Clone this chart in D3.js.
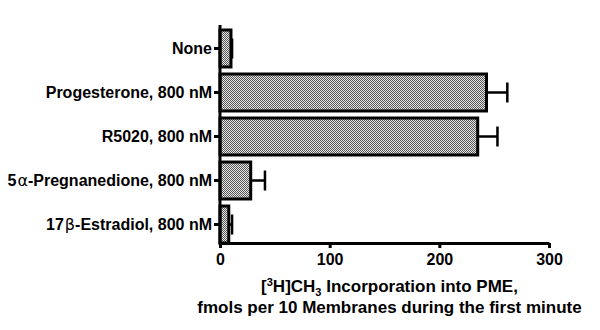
<!DOCTYPE html>
<html>
<head>
<meta charset="utf-8">
<script src="https://cdn.jsdelivr.net/npm/d3@7"></script>
<style>
  body { margin: 0; background: #fff; }
  text { font-family: "Liberation Sans", Arial, sans-serif; font-weight: bold; }
</style>
</head>
<body>
<svg id="chart" width="600" height="330"></svg>
<script>
// data
const treatments = ["None", "Progesterone, 800 nM", "R5020, 800 nM", "5α-Pregnanedione, 800 nM", "17β-Estradiol, 800 nM"];
const incorporation = [10, 243, 235, 28, 8];
const errors = [1, 19, 18, 13, 3];
const xTicks = [0, 100, 200, 300];

let width = 600, height = 330;
var margin = {top: 30, right: 51, bottom: 87, left: 220};

let svg = d3.select("#chart");

// checkered fill like the original
let defs = svg.append("defs");
let pat = defs.append("pattern")
    .attr("id", "check")
    .attr("patternUnits", "userSpaceOnUse")
    .attr("width", 2).attr("height", 2);
pat.append("rect").attr("width", 2).attr("height", 2).attr("fill", "#e8e8e8");
pat.append("rect").attr("width", 1).attr("height", 1).attr("fill", "#555");
pat.append("rect").attr("x", 1).attr("y", 1).attr("width", 1).attr("height", 1).attr("fill", "#555");

const xScale = d3.scaleLinear()
    .domain([0, 300])
    .range([margin.left, width - margin.right]);

const yScale = d3.scaleBand()
    .domain(treatments)
    .range([margin.top, height - margin.bottom])
    .paddingInner(0.16)
    .paddingOuter(0);

let axisY = height - margin.bottom;

// bars
svg.append("g")
    .selectAll("rect")
    .data(treatments)
    .enter()
    .append("rect")
        .attr("x", xScale(0))
        .attr("y", d => yScale(d))
        .attr("width", (d, i) => xScale(incorporation[i]) - xScale(0))
        .attr("height", yScale.bandwidth())
        .attr("fill", "url(#check)")
        .attr("stroke", "black")
        .attr("stroke-width", 3);

// error bars (upper only)
let errG = svg.append("g").attr("stroke", "black").attr("stroke-width", 2.5);
treatments.forEach((t, i) => {
    let cy = yScale(t) + yScale.bandwidth() / 2;
    let x1 = xScale(incorporation[i]);
    let x2 = xScale(incorporation[i] + errors[i]);
    errG.append("line").attr("x1", x1).attr("x2", x2).attr("y1", cy).attr("y2", cy);
    errG.append("line").attr("x1", x2).attr("x2", x2)
        .attr("y1", cy - 10).attr("y2", cy + 10);
});

// x axis
let xAxis = svg.append("g")
    .attr("transform", "translate(0," + axisY + ")")
    .call(d3.axisBottom(xScale).tickValues(xTicks).tickSize(5).tickPadding(6).tickSizeOuter(0));
xAxis.select(".domain").attr("stroke-width", 3);
xAxis.selectAll(".tick line").attr("stroke-width", 3);
xAxis.selectAll("text").style("font-size", "16px").style("font-family", "Liberation Sans, Arial").style("font-weight", "bold");

// y axis
let yAxis = svg.append("g")
    .attr("transform", "translate(" + margin.left + ",0)")
    .call(d3.axisLeft(yScale).tickSize(6).tickPadding(2).tickSizeOuter(0));
yAxis.select(".domain").attr("stroke-width", 3)
    .attr("d", "M0," + (margin.top - 5) + "V" + (axisY + 1.5));
yAxis.selectAll(".tick line").attr("stroke-width", 3);
yAxis.selectAll("text")
    .style("font-size", "16px").style("font-family", "Liberation Sans, Arial").style("font-weight", "bold")
    .each(function(d) {
        // greek letters drawn a bit lighter, like the symbol font in the original
        let el = d3.select(this);
        let m = d.match(/^(\d+)([αβ])(.*)$/);
        if (m) {
            el.text(null);
            el.append("tspan").text(m[1]);
            el.append("tspan").text(m[2]).style("font-weight", "normal").style("font-family", "DejaVu Sans").attr("dx", 1);
            el.append("tspan").text(m[3]);
        }
    });

// axis title
let cx = (xScale(0) + xScale(300)) / 2 + 5;
let title = svg.append("text")
    .attr("x", cx).attr("y", 292)
    .attr("text-anchor", "middle")
    .style("font-size", "17px");
title.append("tspan").text("[");
title.append("tspan").text("3").attr("dy", -6).style("font-size", "11px");
title.append("tspan").text("H]CH").attr("dy", 6);
title.append("tspan").text("3").attr("dy", 4).style("font-size", "11px");
title.append("tspan").text(" Incorporation into PME,").attr("dy", -4);

svg.append("text")
    .attr("x", cx).attr("y", 313)
    .attr("text-anchor", "middle")
    .style("font-size", "17px")
    .text("fmols per 10 Membranes during the first minute");
</script>
</body>
</html>
